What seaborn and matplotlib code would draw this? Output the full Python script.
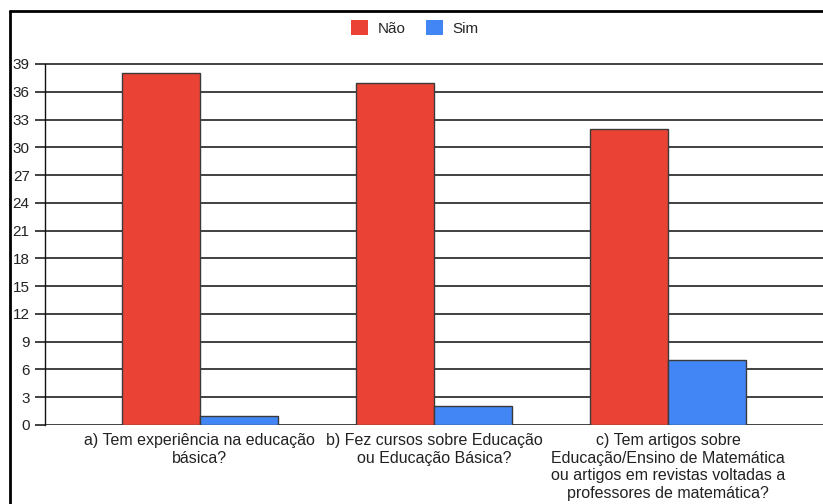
import matplotlib
matplotlib.use("Agg")
import matplotlib.pyplot as plt
import seaborn as sns
import pandas as pd
from matplotlib.lines import Line2D
from matplotlib.patches import Patch

categories = [
    "a) Tem experiência na educação\nbásica?",
    "b) Fez cursos sobre Educação\nou Educação Básica?",
    "c) Tem artigos sobre\nEducação/Ensino de Matemática\nou artigos em revistas voltadas a\nprofessores de matemática?",
]
series_names = ["Não", "Sim"]
nao_values = [38, 37, 32]
sim_values = [1, 2, 7]
colors = ["#EA4335", "#4285F4"]
yticks = list(range(0, 40, 3))

rows = []
for cat, n, s in zip(categories, nao_values, sim_values):
    rows.append({"cat": cat, "serie": series_names[0], "val": n})
    rows.append({"cat": cat, "serie": series_names[1], "val": s})
df = pd.DataFrame(rows)

sns.set_theme(style="white")
plt.rcParams["font.family"] = ["Liberation Sans", "DejaVu Sans"]

W, H = 823, 504
px_per_unit = (425 - 64) / 39.0
ytop = 39.15
top_px = 425 - ytop * px_per_unit
fig = plt.figure(figsize=(W / 100, H / 100), dpi=100)
ax = fig.add_axes([45 / W, 1 - 425 / H, (W - 45) / W, (425 - top_px) / H])

sns.barplot(data=df, x="cat", y="val", hue="serie", palette=colors,
            order=categories, hue_order=series_names, width=0.667,
            edgecolor="#3a3a3a", linewidth=1.0, saturation=1, ax=ax,
            legend=False, zorder=3)

ax.set_ylim(0, ytop)
ax.set_xlim(-0.66, 2.66)
ax.set_yticks(yticks)
ax.set_yticklabels([str(t) for t in yticks], fontsize=11, color="#222222")
ax.yaxis.grid(True, color="#333333", linewidth=1.3, zorder=0)
ax.set_axisbelow(True)
ax.tick_params(axis="y", length=7, width=1.3, color="#333333", pad=4, left=True)
ax.tick_params(axis="x", length=0, pad=6, labelsize=11.5, labelcolor="#222222")
for lbl in ax.get_xticklabels():
    lbl.set_linespacing(1.2)
ax.set_xlabel("")
ax.set_ylabel("")
for side in ["top", "right", "bottom"]:
    ax.spines[side].set_visible(False)
ax.spines["left"].set_color("#111111")
ax.spines["left"].set_linewidth(1.0)
ax.spines["left"].set_bounds(0, 39)

handles = [Patch(facecolor=c, edgecolor="none") for c in colors]
fig.legend(handles, series_names, loc="center", bbox_to_anchor=(415 / W, 1 - 28 / H),
           ncol=2, frameon=False, fontsize=11, handlelength=1.1, handleheight=1.1,
           columnspacing=1.3, handletextpad=0.65)

# screenshot frame
fig.add_artist(Line2D([10 / W, 1.0], [1 - 11 / H, 1 - 11 / H], color="black", lw=2,
                      transform=fig.transFigure))
fig.add_artist(Line2D([10 / W, 10 / W], [0, 1 - 11 / H], color="black", lw=2,
                      transform=fig.transFigure))

fig.savefig("out.png", dpi=100, facecolor="white")
